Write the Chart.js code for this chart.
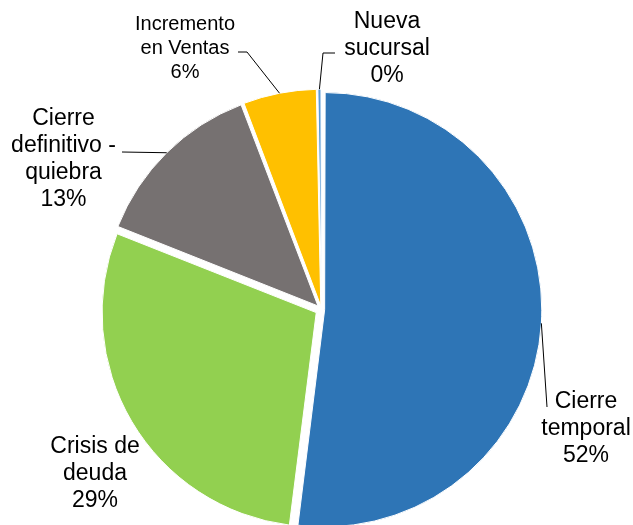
<!DOCTYPE html>
<html lang="es">
<head>
    <meta charset="UTF-8">
    <title>Pie</title>
    <style>
        html, body { margin: 0; padding: 0; background: #ffffff; }
    </style>
</head>
<body>
    <canvas id="myChart" width="633" height="525"></canvas>

    <script src="https://cdn.jsdelivr.net/npm/chart.js"></script>
    <script>
        // data
        const categories = ['Cierre temporal', 'Crisis de deuda', 'Cierre definitivo - quiebra', 'Incremento en Ventas', 'Nueva sucursal'];
        const values = [52.0, 29.0, 13.2, 5.5, 0.3];
        const colors = ['#2E75B6', '#92D050', '#767171', '#FFC000', '#5B9BD5'];

        // how the category names wrap in the labels
        const labelLines = [
            ['Cierre', 'temporal'],
            ['Crisis de', 'deuda'],
            ['Cierre', 'definitivo -', 'quiebra'],
            ['Incremento', 'en Ventas'],
            ['Nueva', 'sucursal']
        ];

        // label placement (center x, first baseline, font size, line height, leader bends)
        const labelLayout = [
            { x: 586, y: 408, size: 23, lh: 27, leader: [[547, 407]] },
            { x: 95, y: 453, size: 23, lh: 27, leader: null },
            { x: 63.5, y: 125, size: 23, lh: 27, leader: [[122, 152]] },
            { x: 185, y: 30, size: 20, lh: 24, leader: [[247, 52], [238, 52]] },
            { x: 387, y: 28, size: 23, lh: 27, leader: [[323, 53], [335, 53]] }
        ];

        const explode = 6.3;   // every slice pulled out by this many px
        const total = values.reduce((a, b) => a + b, 0);

        // arc draw shifts by offset/4*(1+fix), so undo that to get an even explode
        function sliceOffset(ctx) {
            const circ = values[ctx.dataIndex] / total * Math.PI * 2;
            const fix = 1 - Math.sin(Math.min(Math.PI, circ));
            return 4 * explode / (1 + fix);
        }

        const labelPlugin = {
            id: 'outsideLabels',
            afterDatasetsDraw(chart) {
                const c = chart.ctx;
                const meta = chart.getDatasetMeta(0);
                c.save();
                c.fillStyle = '#000000';
                c.strokeStyle = '#000000';
                c.lineWidth = 1;
                c.textAlign = 'center';
                c.textBaseline = 'alphabetic';

                meta.data.forEach((arc, i) => {
                    const p = arc.getProps(['x', 'y', 'startAngle', 'endAngle', 'outerRadius'], true);
                    const half = (p.startAngle + p.endAngle) / 2;
                    const cx = p.x + Math.cos(half) * explode;
                    const cy = p.y + Math.sin(half) * explode;
                    const lay = labelLayout[i];

                    if (lay.leader) {
                        c.beginPath();
                        c.moveTo(cx + Math.cos(half) * p.outerRadius, cy + Math.sin(half) * p.outerRadius);
                        lay.leader.forEach(pt => c.lineTo(pt[0], pt[1]));
                        c.stroke();
                    }

                    const pct = Math.round(values[i] / total * 100) + '%';
                    const lines = labelLines[i].concat([pct]);
                    c.font = lay.size + 'px "Liberation Sans", Arial, sans-serif';
                    lines.forEach((t, k) => c.fillText(t, lay.x, lay.y + k * lay.lh));
                });
                c.restore();
            }
        };

        const chart = new Chart(document.getElementById('myChart'), {
            type: 'pie',
            data: {
                labels: categories,
                datasets: [{
                    data: values,
                    backgroundColor: colors,
                    borderColor: '#ffffff',
                    borderWidth: 1,
                    offset: sliceOffset
                }]
            },
            plugins: [labelPlugin],
            options: {
                responsive: false,
                animation: false,
                events: [],
                radius: 214,
                layout: { padding: { left: 10, right: 0, top: 94, bottom: 0 } },
                plugins: {
                    legend: { display: false },
                    tooltip: { enabled: false }
                }
            }
        });
    </script>
</body>
</html>
